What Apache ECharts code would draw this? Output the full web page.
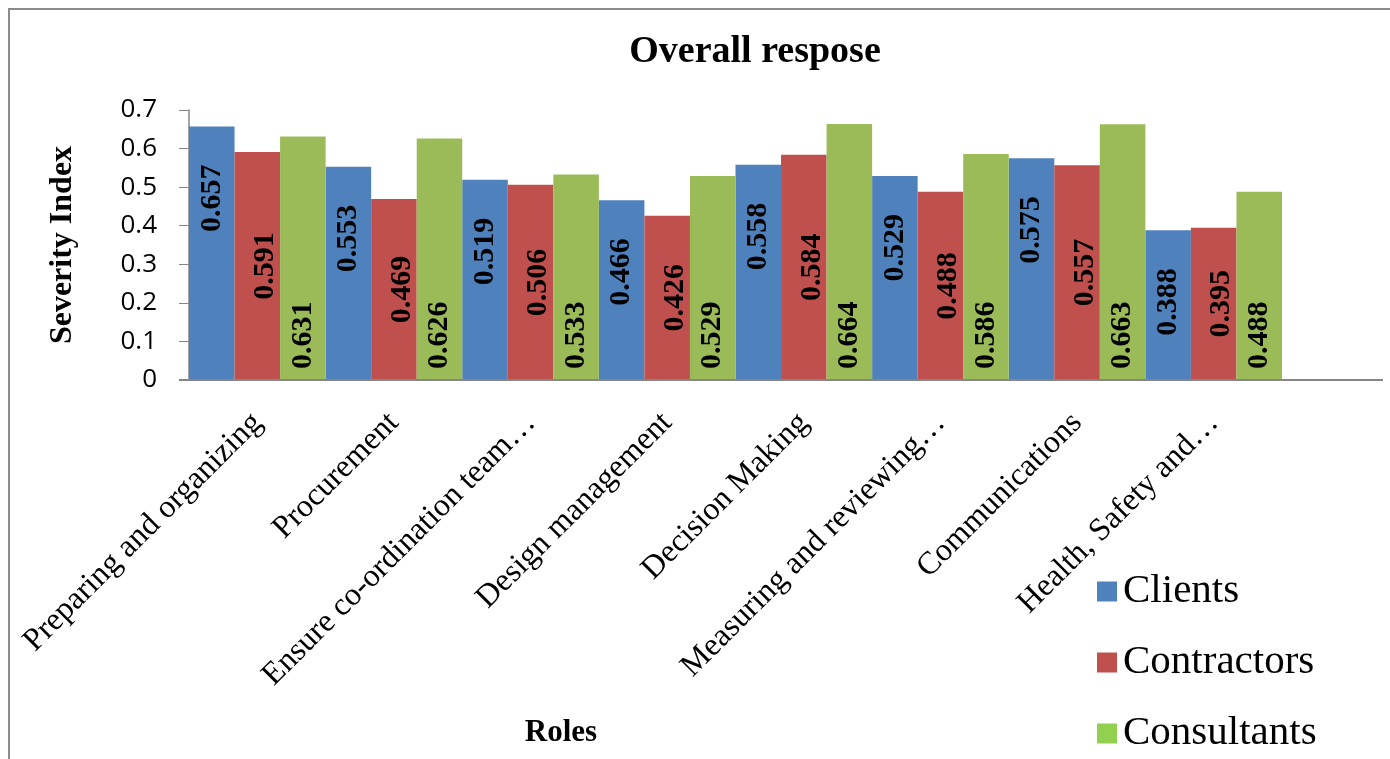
<!DOCTYPE html>
<html>
<head>
<meta charset="utf-8">
<title>Overall respose</title>
<script src="https://cdn.jsdelivr.net/npm/echarts@6/dist/echarts.min.js"></script>
<style>
  html, body { margin: 0; padding: 0; background: #ffffff; }
  #chart { width: 1390px; height: 759px; }
</style>
</head>
<body>
<div id="chart"></div>
<script>
// Roles along the horizontal axis
const roles = [
  'Preparing and organizing',
  'Procurement',
  'Ensure co-ordination team\u2026',
  'Design management',
  'Decision Making',
  'Measuring and reviewing\u2026',
  'Communications',
  'Health, Safety and\u2026'
];

// Severity index per respondent group
const clients     = [0.657, 0.553, 0.519, 0.466, 0.558, 0.529, 0.575, 0.388];
const contractors = [0.591, 0.469, 0.506, 0.426, 0.584, 0.488, 0.557, 0.395];
const consultants = [0.631, 0.626, 0.533, 0.529, 0.664, 0.586, 0.663, 0.488];

const seriesNames = ['Clients', 'Contractors', 'Consultants'];
const yTicks = { min: 0, max: 0.7, step: 0.1 };

const SERIF = '"Liberation Serif", "Times New Roman", serif';
const SANS = '"Open Sans", "Liberation Sans", sans-serif';
const AXIS_GREY = '#868686';

const colors = ['#4F81BD', '#C0504D', '#9BBB59'];
const legendColors = ['#4F81BD', '#C0504D', '#92D050'];

const valueLabel = {
  show: true,
  rotate: 90,
  color: '#000',
  fontFamily: SERIF,
  fontWeight: 'bold',
  fontSize: 30,
  formatter: p => p.value.toFixed(3)
};

const chart = echarts.init(document.getElementById('chart'), null, { renderer: 'canvas' });

chart.setOption({
  animation: false,
  backgroundColor: '#ffffff',
  title: [
    {
      text: 'Overall respose',
      left: 750,
      textAlign: 'center',
      top: 28,
      textStyle: { fontFamily: SERIF, fontWeight: 'bold', fontSize: 38, color: '#000' }
    },
    {
      text: 'Roles',
      left: 556,
      textAlign: 'center',
      top: 712,
      textStyle: { fontFamily: SERIF, fontWeight: 'bold', fontSize: 31, color: '#000' }
    }
  ],
  legend: {
    orient: 'vertical',
    left: 1092,
    top: 566,
    itemWidth: 20,
    itemHeight: 20,
    itemGap: 30,
    icon: 'rect',
    textStyle: {
      fontFamily: SERIF, fontSize: 41, color: '#000', lineHeight: 40,
      padding: [0, 0, 0, 1]
    },
    data: seriesNames.map((n, i) => ({ name: n, itemStyle: { color: legendColors[i] } }))
  },
  grid: { left: 189, right: 108, top: 110, bottom: 379, containLabel: false },
  xAxis: {
    type: 'category',
    data: roles,
    axisLine: { show: false },
    axisTick: { show: false },
    axisLabel: {
      interval: 0,
      rotate: 45,
      margin: 38,
      fontFamily: SERIF,
      fontSize: 32,
      color: '#000'
    }
  },
  yAxis: {
    type: 'value',
    min: yTicks.min,
    max: yTicks.max,
    interval: yTicks.step,
    name: 'Severity Index',
    nameLocation: 'middle',
    nameGap: 110,
    nameTextStyle: { fontFamily: SERIF, fontWeight: 'bold', fontSize: 32, color: '#000' },
    axisLine: { show: true, lineStyle: { color: AXIS_GREY, width: 1.5 } },
    axisTick: { show: true, inside: false, length: 10, lineStyle: { color: AXIS_GREY, width: 1 } },
    splitLine: { show: false },
    axisLabel: { margin: 32, fontFamily: SANS, fontSize: 26, color: '#000' }
  },
  series: [
    {
      name: seriesNames[0], type: 'bar', data: clients,
      barGap: '0%', barCategoryGap: '0%',
      itemStyle: { color: colors[0] },
      label: Object.assign({}, valueLabel, { position: 'insideTop', distance: 38, align: 'right', verticalAlign: 'middle' })
    },
    {
      name: seriesNames[1], type: 'bar', data: contractors,
      barGap: '0%', barCategoryGap: '0%',
      itemStyle: { color: colors[1] },
      label: Object.assign({}, valueLabel, { position: 'inside', offset: [0, 8], align: 'center', verticalAlign: 'middle' })
    },
    {
      name: seriesNames[2], type: 'bar', data: consultants,
      barGap: '0%', barCategoryGap: '0%',
      itemStyle: { color: colors[2] },
      label: Object.assign({}, valueLabel, { position: 'insideBottom', distance: 11, align: 'left', verticalAlign: 'middle' })
    }
  ],
  graphic: [
    // chart frame
    {
      type: 'rect', silent: true, z: -1,
      shape: { x: 9, y: 9, width: 1400, height: 800 },
      style: { fill: 'none', stroke: '#8c8c8c', lineWidth: 2 }
    },
    // horizontal axis baseline, running past the last group
    {
      type: 'line', silent: true, z: 10,
      shape: { x1: 179, y1: 380, x2: 1383, y2: 380 },
      style: { stroke: AXIS_GREY, lineWidth: 2 }
    }
  ]
});
</script>
</body>
</html>
